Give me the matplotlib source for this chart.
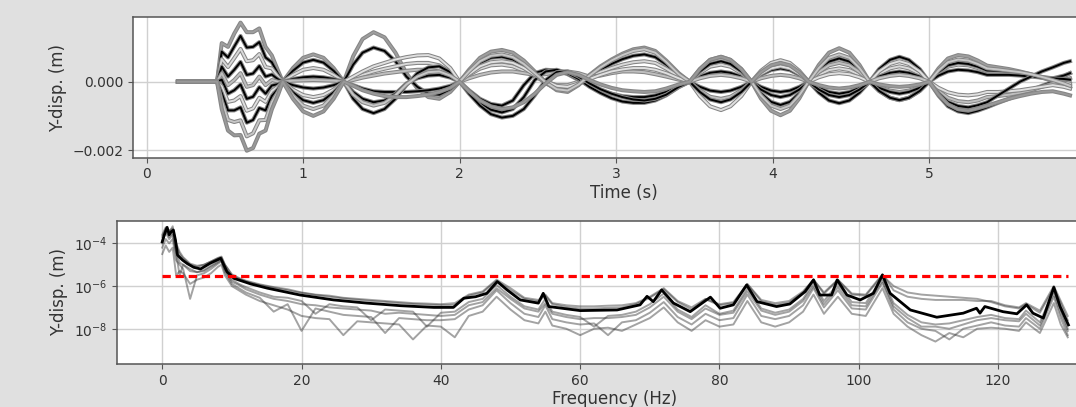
"""
Response traces of the Y-displacement in time (top) and their amplitude
spectra (bottom), with the detection threshold drawn as a red dashed line.
"""
import matplotlib
matplotlib.use("Agg")
import matplotlib.pyplot as plt
import matplotlib.patheffects as pe
import numpy as np

# ---------------------------------------------------------------- time data
# sample times (s); values of each trace are in mm
t_s = [0.20, 0.45,
       0.48, 0.52, 0.56, 0.60, 0.64, 0.68, 0.72, 0.76, 0.80, 0.84, 0.87,
       0.935, 1.00, 1.065, 1.13, 1.195, 1.26,
       1.32, 1.38, 1.45, 1.52, 1.59, 1.66, 1.73, 1.80, 1.87, 1.94, 2.00,
       2.06, 2.13, 2.20, 2.27, 2.34, 2.41, 2.48, 2.55, 2.62, 2.69, 2.76,
       2.83, 2.90, 2.97, 3.04, 3.11, 3.18, 3.25, 3.32, 3.40, 3.47,
       3.535, 3.60, 3.67, 3.73, 3.80, 3.865,
       3.925, 3.99, 4.05, 4.11, 4.17, 4.23,
       4.295, 4.36, 4.425, 4.49, 4.555, 4.62,
       4.68, 4.75, 4.81, 4.87, 4.94, 5.00,
       5.06, 5.12, 5.185, 5.25, 5.31, 5.37,
       5.44, 5.51, 5.58, 5.65, 5.72, 5.79, 5.86, 5.90]

disp_a = [0, 0,
          1.13, 1.02, 1.41, 1.73, 1.45, 1.45, 1.56, 1.02, 0.77, 0.32, 0,
          0.4, 0.7, 0.8, 0.7, 0.4, 0,
          0.75, 1.25, 1.45, 1.3, 0.85, 0.25, -0.2, -0.45, -0.5, -0.3, 0,
          0.35, 0.7, 0.88, 0.93, 0.85, 0.62, 0.3, -0.02, -0.25, -0.3, -0.1,
          0.2, 0.45, 0.65, 0.82, 0.95, 1.0, 0.9, 0.62, 0.25, 0,
          0.37, 0.64, 0.73, 0.64, 0.37, 0,
          -0.49, -0.85, -0.98, -0.85, -0.49, 0,
          0.49, 0.85, 0.98, 0.85, 0.49, 0,
          -0.27, -0.47, -0.54, -0.47, -0.27, 0,
          0.39, 0.68, 0.78, 0.74, 0.62, 0.47,
          0.42, 0.37, 0.3, 0.22, 0.12, 0.02, -0.1, -0.18]
disp_b = [0, 0,
          0.88, 0.71, 1.03, 1.34, 1.0, 1.02, 1.16, 0.71, 0.57, 0.23, 0,
          0.32, 0.56, 0.64, 0.56, 0.32, 0,
          0.5, 0.85, 1.0, 0.9, 0.6, 0.15, -0.15, -0.35, -0.38, -0.22, 0,
          0.28, 0.55, 0.7, 0.73, 0.65, 0.45, 0.2, -0.05, -0.2, -0.22, -0.05,
          0.15, 0.35, 0.52, 0.66, 0.76, 0.8, 0.72, 0.5, 0.2, 0,
          0.15, 0.26, 0.3, 0.26, 0.15, 0,
          -0.34, -0.59, -0.68, -0.59, -0.34, 0,
          0.34, 0.59, 0.68, 0.59, 0.34, 0,
          0.37, 0.64, 0.73, 0.64, 0.37, 0,
          -0.41, -0.72, -0.87, -0.92, -0.85, -0.75,
          -0.62, -0.5, -0.38, -0.25, -0.12, 0.0, 0.15, 0.25]
disp_c = [0, 0,
          0.66, 0.43, 0.69, 0.96, 0.6, 0.63, 0.81, 0.43, 0.39, 0.15, 0,
          0.2, 0.35, 0.4, 0.35, 0.2, 0,
          0.1, 0.2, 0.3, 0.38, 0.45, 0.52, 0.55, 0.55, 0.48, 0.28, 0,
          0.2, 0.38, 0.48, 0.5, 0.45, 0.32, 0.15, 0.0, -0.1, -0.1, 0.0,
          0.12, 0.28, 0.4, 0.5, 0.57, 0.6, 0.55, 0.38, 0.15, 0,
          0.25, 0.44, 0.5, 0.44, 0.25, 0,
          0.32, 0.55, 0.63, 0.55, 0.32, 0,
          0.2, 0.34, 0.39, 0.34, 0.2, 0,
          0.23, 0.39, 0.45, 0.39, 0.23, 0,
          0.25, 0.44, 0.5, 0.48, 0.4, 0.3,
          0.28, 0.26, 0.22, 0.18, 0.12, 0.05, -0.02, -0.06]
disp_d = [0, 0,
          0.44, 0.15, 0.35, 0.58, 0.2, 0.24, 0.46, 0.15, 0.21, 0.07, 0,
          0.08, 0.13, 0.15, 0.13, 0.08, 0,
          -0.1, -0.2, -0.28, -0.3, -0.3, -0.3, -0.28, -0.25, -0.2, -0.12, 0,
          -0.25, -0.5, -0.65, -0.7, -0.55, -0.1, 0.25, 0.35, 0.33, 0.22, 0.05,
          -0.12, -0.25, -0.35, -0.42, -0.45, -0.45, -0.4, -0.3, -0.12, 0,
          -0.15, -0.26, -0.3, -0.26, -0.15, 0,
          0.2, 0.34, 0.39, 0.34, 0.2, 0,
          -0.18, -0.3, -0.35, -0.3, -0.18, 0,
          0.15, 0.26, 0.3, 0.26, 0.15, 0,
          0.28, 0.48, 0.55, 0.52, 0.44, 0.33,
          0.32, 0.3, 0.26, 0.2, 0.14, 0.1, 0.18, 0.25]
disp_e = [0, 0,
          0.25, -0.1, 0.05, 0.25, -0.15, -0.1, 0.15, -0.1, 0.05, 0, 0,
          0.03, 0.04, 0.05, 0.04, 0.03, 0,
          0.05, 0.12, 0.18, 0.24, 0.28, 0.32, 0.35, 0.35, 0.3, 0.18, 0,
          0.1, 0.2, 0.27, 0.3, 0.3, 0.25, 0.2, 0.22, 0.28, 0.3, 0.25,
          0.15, 0.18, 0.25, 0.3, 0.3, 0.28, 0.22, 0.15, 0.06, 0,
          -0.25, -0.44, -0.5, -0.44, -0.25, 0,
          0.1, 0.17, 0.2, 0.17, 0.1, 0,
          0.28, 0.48, 0.55, 0.48, 0.28, 0,
          -0.15, -0.26, -0.3, -0.26, -0.15, 0,
          -0.27, -0.47, -0.57, -0.6, -0.55, -0.45,
          -0.42, -0.38, -0.32, -0.25, -0.15, -0.05, 0.05, 0.1]
disp_f = [0, 0,
          0.06, -0.35, -0.25, -0.08, -0.5, -0.44, -0.16, -0.35, -0.11, -0.07, 0,
          -0.1, -0.17, -0.2, -0.17, -0.1, 0,
          -0.5, -0.8, -0.92, -0.8, -0.5, -0.1, 0.25, 0.42, 0.45, 0.28, 0,
          -0.3, -0.62, -0.82, -0.9, -0.8, -0.45, 0.05, 0.3, 0.35, 0.25, 0.08,
          -0.15, -0.33, -0.48, -0.58, -0.62, -0.62, -0.55, -0.4, -0.16, 0,
          0.3, 0.52, 0.6, 0.52, 0.3, 0,
          -0.15, -0.26, -0.3, -0.26, -0.15, 0,
          -0.32, -0.55, -0.63, -0.55, -0.32, 0,
          -0.18, -0.3, -0.35, -0.3, -0.18, 0,
          0.18, 0.3, 0.35, 0.33, 0.28, 0.2,
          0.2, 0.2, 0.18, 0.15, 0.12, 0.1, 0.08, 0.06]
disp_g = [0, 0,
          -0.14, -0.59, -0.55, -0.42, -0.85, -0.78, -0.47, -0.59, -0.27, -0.14, 0,
          -0.23, -0.39, -0.45, -0.39, -0.23, 0,
          0.15, 0.3, 0.45, 0.55, 0.65, 0.72, 0.77, 0.78, 0.68, 0.4, 0,
          0.22, 0.45, 0.57, 0.6, 0.55, 0.4, 0.2, 0.02, -0.12, -0.15, -0.05,
          0.08, 0.2, 0.3, 0.36, 0.4, 0.4, 0.35, 0.25, 0.1, 0,
          -0.42, -0.72, -0.83, -0.72, -0.42, 0,
          0.23, 0.39, 0.45, 0.39, 0.23, 0,
          0.13, 0.22, 0.25, 0.22, 0.13, 0,
          0.3, 0.52, 0.6, 0.52, 0.3, 0,
          -0.18, -0.31, -0.38, -0.4, -0.37, -0.3,
          -0.3, -0.28, -0.25, -0.2, -0.15, -0.1, -0.15, -0.2]
disp_h = [0, 0,
          -0.33, -0.84, -0.84, -0.75, -1.2, -1.12, -0.77, -0.84, -0.42, -0.21, 0,
          -0.31, -0.54, -0.62, -0.54, -0.31, 0,
          -0.3, -0.5, -0.6, -0.55, -0.35, -0.05, 0.1, 0.18, 0.2, 0.12, 0,
          -0.35, -0.7, -0.95, -1.05, -1.0, -0.8, -0.4, 0.05, 0.28, 0.3, 0.15,
          -0.05, -0.22, -0.35, -0.45, -0.52, -0.55, -0.5, -0.38, -0.15, 0,
          -0.3, -0.52, -0.6, -0.52, -0.3, 0,
          -0.23, -0.39, -0.45, -0.39, -0.23, 0,
          -0.23, -0.39, -0.45, -0.39, -0.23, 0,
          -0.27, -0.47, -0.54, -0.47, -0.27, 0,
          -0.34, -0.59, -0.71, -0.75, -0.69, -0.6,
          -0.4, -0.2, 0.0, 0.15, 0.3, 0.42, 0.55, 0.6]
disp_i = [0, 0,
          -0.55, -1.12, -1.18, -1.13, -1.6, -1.51, -1.13, -1.12, -0.6, -0.29, 0,
          -0.4, -0.7, -0.8, -0.7, -0.4, 0,
          -0.38, -0.6, -0.7, -0.62, -0.4, -0.08, 0.15, 0.28, 0.3, 0.18, 0,
          0.3, 0.6, 0.76, 0.8, 0.72, 0.52, 0.25, -0.02, -0.22, -0.26, -0.08,
          0.18, 0.42, 0.62, 0.78, 0.9, 0.95, 0.85, 0.58, 0.22, 0,
          0.1, 0.17, 0.2, 0.17, 0.1, 0,
          -0.4, -0.7, -0.8, -0.7, -0.4, 0,
          0.4, 0.7, 0.8, 0.7, 0.4, 0,
          0.1, 0.17, 0.2, 0.17, 0.1, 0,
          0.33, 0.57, 0.65, 0.62, 0.52, 0.39,
          0.36, 0.32, 0.28, 0.22, 0.14, 0.05, -0.05, -0.12]
disp_j = [0, 0,
          -0.8, -1.43, -1.57, -1.56, -2.02, -1.94, -1.52, -1.43, -0.81, -0.38, 0,
          -0.5, -0.87, -1.0, -0.87, -0.5, 0,
          -0.12, -0.25, -0.35, -0.42, -0.45, -0.45, -0.42, -0.38, -0.3, -0.18, 0,
          -0.28, -0.55, -0.72, -0.8, -0.75, -0.6, -0.35, -0.05, 0.2, 0.28, 0.2,
          0.05, -0.08, -0.18, -0.25, -0.28, -0.3, -0.28, -0.2, -0.08, 0,
          0.37, 0.64, 0.73, 0.64, 0.37, 0,
          0.28, 0.48, 0.55, 0.48, 0.28, 0,
          -0.1, -0.17, -0.2, -0.17, -0.1, 0,
          -0.08, -0.13, -0.15, -0.13, -0.08, 0,
          -0.38, -0.66, -0.81, -0.85, -0.78, -0.7,
          -0.6, -0.5, -0.42, -0.35, -0.3, -0.28, -0.35, -0.4]

# inner colour of each trace (all get the same grey outline)
trace_colours = ["0.62", "0.0", "0.85", "0.0", "0.75",
                 "0.0", "0.88", "0.0", "0.78", "0.6"]
traces_mm = [disp_a, disp_b, disp_c, disp_d, disp_e,
             disp_f, disp_g, disp_h, disp_i, disp_j]

# ------------------------------------------------------------ spectrum data
# log10 of the mean amplitude spectrum (m)
freq_mean = [0, 0.3, 0.7, 1.0, 1.3, 1.6, 1.9, 2.2, 2.9, 3.6,
             4.5, 5.5, 6.9, 8.4, 9.3, 10.3, 12.7, 15.1, 19.8, 24.6,
             29.4, 34.2, 39.0, 41.8, 43.3, 45.0, 46.6, 48.1, 49.5, 51.4,
             54.0, 54.7, 55.5, 60.0, 65.3, 68.6, 69.6, 70.5, 71.7, 73.4,
             75.8, 78.7, 80.1, 82.0, 83.9, 85.4, 88.2, 90.1, 92.3, 93.5,
             94.4, 96.1, 96.9, 98.3, 100.2, 102.1, 103.4, 104.5, 107.4, 111.2,
             115.0, 116.9, 117.4, 118.1, 120.7, 122.7, 124.1, 125.0, 126.5, 128.0,
             128.9, 130.1]
log_mean = [-3.93, -3.6, -3.25, -3.6, -3.45, -3.38, -3.85, -4.55, -4.78, -4.95,
            -5.12, -5.2, -4.93, -4.70, -5.33, -5.64, -5.9, -6.1, -6.42, -6.65,
            -6.8, -6.92, -7.0, -7.0, -6.57, -6.5, -6.34, -5.79, -6.18, -6.65,
            -6.8, -6.34, -6.96, -7.15, -7.12, -6.88, -6.48, -6.73, -6.18, -6.8,
            -7.2, -6.52, -7.04, -6.88, -5.95, -6.73, -6.96, -6.84, -6.26, -5.71,
            -6.42, -6.42, -5.71, -6.42, -6.65, -6.34, -5.48, -6.34, -7.12, -7.46,
            -7.27, -7.04, -7.27, -6.96, -7.2, -7.3, -6.88, -7.27, -7.5, -6.06,
            -6.96, -7.82]

# individual spectra (log10, m), read on a coarser frequency grid
freq_ind = [0, 0.5, 1, 1.5, 2, 2.5, 3, 4, 5, 6,
            7, 8, 8.5, 9, 10, 11, 12, 14, 16, 18,
            20, 22, 24, 26, 28, 30, 32, 34, 36, 38,
            40, 42, 44, 46, 48, 50, 52, 54, 55, 56,
            58, 60, 62, 64, 66, 68, 70, 72, 74, 76,
            78, 80, 82, 84, 86, 88, 90, 92, 93.5, 95,
            97, 99, 101, 103.4, 105, 107, 109, 111, 113, 115,
            117, 119, 121, 123, 124, 126, 128, 129, 130]
log_ind_1 = [-3.7, -3.3, -3.5, -3.2, -4.1, -4.5, -4.7, -5.0, -5.1, -5.0,
             -4.85, -4.7, -4.65, -5.0, -5.45, -5.62, -5.75, -5.92, -6.05, -6.15,
             -6.3, -6.4, -6.45, -6.55, -6.6, -6.65, -6.7, -6.75, -6.8, -6.82,
             -6.85, -6.8, -6.4, -6.25, -5.7, -6.1, -6.55, -6.65, -6.4, -6.8,
             -6.9, -6.95, -6.95, -6.92, -6.9, -6.8, -6.5, -6.1, -6.7, -7.0,
             -6.6, -6.85, -6.75, -5.9, -6.65, -6.8, -6.7, -6.25, -5.7, -6.3,
             -5.7, -6.35, -6.4, -5.45, -6.2, -6.5, -6.6, -6.65, -6.65, -6.65,
             -6.7, -6.7, -6.9, -7.0, -6.8, -7.15, -6.0, -6.7, -7.4]
log_ind_2 = [-3.9, -3.5, -3.8, -3.6, -4.5, -5.5, -5.0, -5.3, -5.35, -5.25,
             -5.05, -4.85, -4.75, -5.2, -5.7, -5.9, -6.05, -6.3, -6.5, -6.55,
             -6.7, -7.3, -6.85, -6.95, -7.0, -7.6, -7.1, -7.15, -7.2, -7.9,
             -7.25, -7.2, -6.75, -6.6, -5.95, -6.5, -6.95, -7.1, -6.6, -7.2,
             -7.35, -7.45, -7.9, -7.4, -7.35, -7.2, -6.85, -6.35, -7.1, -7.45,
             -6.9, -7.3, -7.15, -6.1, -7.05, -7.25, -7.1, -6.6, -5.85, -6.7,
             -5.9, -6.75, -6.8, -5.6, -6.8, -7.35, -7.7, -7.8, -7.75, -7.6,
             -7.45, -7.35, -7.5, -7.55, -7.15, -7.7, -6.2, -7.1, -8.0]
log_ind_3 = [-4.2, -3.8, -4.0, -3.8, -4.8, -5.0, -5.2, -6.6, -5.5, -5.4,
             -5.2, -4.95, -4.85, -5.35, -5.9, -6.1, -6.3, -6.55, -7.2, -6.85,
             -8.1, -7.05, -7.2, -7.35, -7.4, -7.45, -8.2, -7.5, -7.55, -7.6,
             -7.6, -7.55, -7.1, -6.9, -6.2, -6.8, -7.3, -7.45, -6.9, -7.55,
             -7.7, -7.8, -7.75, -8.3, -7.7, -7.6, -7.25, -6.75, -7.45, -7.8,
             -7.3, -7.6, -7.5, -6.4, -7.4, -7.55, -7.4, -6.9, -6.1, -7.0,
             -6.2, -7.05, -7.1, -5.85, -7.1, -7.7, -8.0, -8.1, -8.5, -8.0,
             -7.85, -7.7, -7.85, -7.9, -7.5, -8.0, -6.5, -7.5, -8.3]
log_ind_4 = [-4.5, -4.1, -4.4, -4.2, -5.5, -5.3, -5.4, -5.9, -5.7, -5.6,
             -5.4, -5.1, -5.0, -5.5, -6.0, -6.2, -6.4, -6.7, -6.9, -7.1,
             -7.4, -7.5, -7.55, -8.3, -7.65, -7.7, -7.75, -7.8, -8.5, -7.85,
             -7.9, -8.4, -7.4, -7.2, -6.5, -7.1, -7.6, -7.75, -7.2, -7.85,
             -8.0, -8.3, -8.0, -7.95, -8.1, -7.8, -7.5, -7.0, -7.7, -8.1,
             -7.6, -7.9, -7.8, -6.7, -7.7, -7.9, -7.7, -7.2, -6.4, -7.3,
             -6.5, -7.3, -7.4, -6.1, -7.3, -7.9, -8.3, -8.6, -8.2, -8.4,
             -8.0, -7.95, -8.0, -8.1, -7.7, -8.2, -6.8, -7.8, -8.4]
log_ind_5 = [-4.0, -3.35, -3.7, -3.5, -4.4, -4.9, -5.0, -5.2, -5.35, -5.3,
             -5.1, -4.9, -4.8, -5.25, -5.8, -5.95, -6.15, -6.4, -6.6, -6.7,
             -6.85, -6.9, -7.0, -7.05, -7.1, -7.15, -7.3, -7.25, -7.3, -7.35,
             -7.4, -7.35, -6.9, -6.75, -6.1, -6.6, -7.05, -7.2, -6.8, -7.3,
             -7.45, -7.55, -7.5, -7.5, -7.45, -7.35, -7.0, -6.5, -7.2, -7.55,
             -7.05, -7.35, -7.25, -6.25, -7.15, -7.35, -7.2, -6.7, -6.0, -6.85,
             -6.05, -6.9, -6.95, -5.75, -6.95, -7.5, -7.9, -7.9, -8.0, -7.8,
             -7.6, -7.5, -7.6, -7.65, -7.3, -7.85, -6.35, -7.3, -8.1]
log_ind_6 = [-3.6, -3.25, -3.4, -3.3, -4.0, -4.4, -4.65, -4.95, -5.05, -5.0,
             -4.85, -4.68, -4.62, -5.0, -5.5, -5.65, -5.78, -5.95, -6.08, -6.2,
             -6.32, -6.42, -6.5, -6.58, -6.64, -6.7, -6.74, -6.8, -6.84, -6.87,
             -6.9, -6.88, -6.45, -6.3, -5.75, -6.2, -6.6, -6.72, -6.45, -6.85,
             -6.98, -7.05, -7.05, -7.02, -7.0, -6.85, -6.55, -6.15, -6.75, -7.1,
             -6.62, -6.9, -6.8, -5.92, -6.72, -6.88, -6.78, -6.3, -5.7, -6.36,
             -5.72, -6.4, -6.45, -5.5, -6.0, -6.3, -6.4, -6.45, -6.5, -6.55,
             -6.6, -6.75, -6.95, -7.05, -6.85, -7.25, -6.1, -6.8, -7.6]
spectra_log = [log_ind_1, log_ind_2, log_ind_3, log_ind_4, log_ind_5, log_ind_6]

threshold_m = 3.1e-6
threshold_span = [0, 130]

# ------------------------------------------------------------------- style
BG = "#e0e0e0"
TXT = "#333333"
SPINE = "#555555"
plt.rcParams.update({
    "font.family": "DejaVu Sans",
    "axes.edgecolor": SPINE,
    "axes.linewidth": 1.1,
    "xtick.color": SPINE,
    "ytick.color": SPINE,
    "xtick.labelcolor": TXT,
    "ytick.labelcolor": TXT,
    "xtick.labelsize": 10,
    "ytick.labelsize": 10,
    "axes.labelsize": 12,
    "axes.labelcolor": TXT,
})

fig = plt.figure(figsize=(10.76, 4.07), dpi=100, facecolor=BG)
# both panels run past the right edge of the saved picture
ax_t = fig.add_axes([0.1239, 0.6125, 0.912, 0.345])
ax_f = fig.add_axes([0.1087, 0.1057, 0.9257, 0.352])

# ---- top: displacement traces
outline = [pe.Stroke(linewidth=2.9, foreground="0.52"), pe.Normal()]
t = np.array(t_s)
for vals, col in zip(traces_mm, trace_colours):
    ax_t.plot(t, np.array(vals) * 1e-3, color=col, linewidth=1.4,
              path_effects=outline, solid_joinstyle="round")
ax_t.set_xlim(-0.085, 6.185)
ax_t.set_ylim(-0.002225, 0.001886)
ax_t.set_xticks([0, 1, 2, 3, 4, 5])
ax_t.set_yticks([-0.002, 0.0])
ax_t.set_yticklabels(["\u22120.002", "0.000"])
ax_t.grid(True, color="#d0d0d0", linewidth=1.0)
ax_t.set_axisbelow(True)
ax_t.set_xlabel("Time (s)", labelpad=2)
ax_t.set_ylabel("Y-disp. (m)", labelpad=4)

# ---- bottom: amplitude spectra
for lv in spectra_log:
    ax_f.semilogy(freq_ind, 10.0 ** np.array(lv), color="0.2", alpha=0.45,
                  linewidth=1.4)
ax_f.semilogy(freq_mean, 10.0 ** np.array(log_mean), color="black",
              linewidth=2.0)
ax_f.plot(threshold_span, [threshold_m, threshold_m], color="red",
          linewidth=2.3, dashes=(2.6, 1.5))
ax_f.set_xlim(-6.5, 136.5)
ax_f.set_ylim(10 ** -9.65, 10 ** -2.94)
ax_f.set_xticks([0, 20, 40, 60, 80, 100, 120])
ax_f.set_yticks([1e-8, 1e-6, 1e-4])
ax_f.yaxis.set_minor_locator(plt.NullLocator())
ax_f.grid(True, color="#d0d0d0", linewidth=1.0)
ax_f.set_axisbelow(True)
ax_f.set_xlabel("Frequency (Hz)", labelpad=2)
ax_f.set_ylabel("Y-disp. (m)", labelpad=4)

for ax in (ax_t, ax_f):
    ax.set_facecolor("white")

fig.savefig("out.png", dpi=100, facecolor=BG)
